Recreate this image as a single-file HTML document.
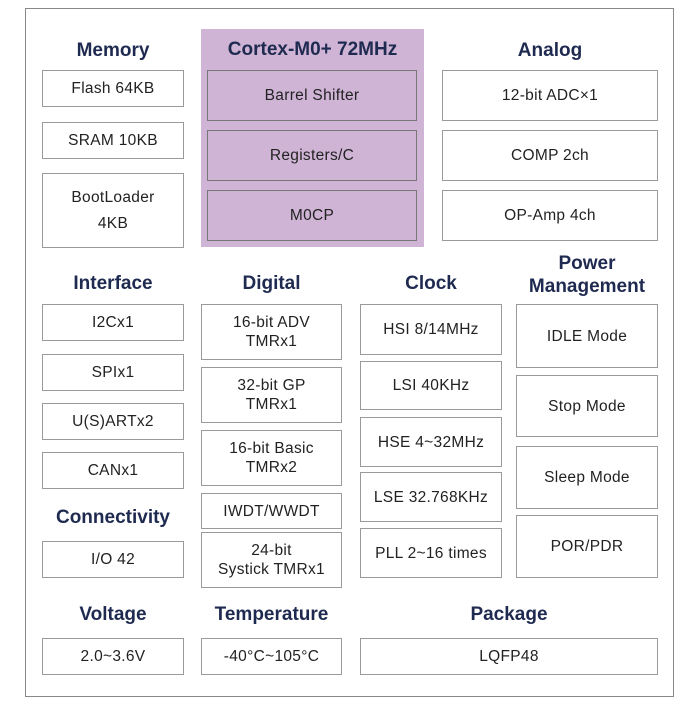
<!DOCTYPE html>
<html><head><style>
body{margin:0;width:700px;height:709px;background:#fff;position:relative;font-family:"Liberation Sans",sans-serif;overflow:hidden}
.o{position:absolute;left:25px;top:8px;width:649px;height:689px;border:1px solid #888;box-sizing:border-box}
.b{position:absolute;box-sizing:border-box;border:1px solid #9a9a9a;background:#fff;display:flex;align-items:center;justify-content:center;text-align:center;font-size:15.5px;color:#222;line-height:19px;letter-spacing:0.3px}
.p{background:#cfb4d6;border-color:#777}
.h{position:absolute;font-weight:bold;font-size:19px;color:#1f2a50;text-align:center;line-height:23px}
</style></head><body>
<div class="o"></div>
<div style="position:absolute;left:201px;top:29px;width:223px;height:218px;background:#cfb4d6"></div>
<div class="h" style="left:201px;width:223px;top:38px">Cortex-M0+ 72MHz</div>
<div class="b p" style="left:207px;top:70px;width:210px;height:51px">Barrel Shifter</div>
<div class="b p" style="left:207px;top:130px;width:210px;height:51px">Registers/C</div>
<div class="b p" style="left:207px;top:190px;width:210px;height:51px">M0CP</div>

<div class="h" style="left:42px;width:142px;top:39px">Memory</div>
<div class="b" style="left:42px;top:70px;width:142px;height:37px">Flash 64KB</div>
<div class="b" style="left:42px;top:122px;width:142px;height:37px">SRAM 10KB</div>
<div class="b" style="left:42px;top:173px;width:142px;height:75px;line-height:26px">BootLoader<br>4KB</div>

<div class="h" style="left:442px;width:216px;top:39px">Analog</div>
<div class="b" style="left:442px;top:70px;width:216px;height:51px">12-bit ADC×1</div>
<div class="b" style="left:442px;top:130px;width:216px;height:51px">COMP 2ch</div>
<div class="b" style="left:442px;top:190px;width:216px;height:51px">OP-Amp 4ch</div>

<div class="h" style="left:42px;width:142px;top:272px">Interface</div>
<div class="b" style="left:42px;top:304px;width:142px;height:37px">I2Cx1</div>
<div class="b" style="left:42px;top:354px;width:142px;height:37px">SPIx1</div>
<div class="b" style="left:42px;top:403px;width:142px;height:37px">U(S)ARTx2</div>
<div class="b" style="left:42px;top:452px;width:142px;height:37px">CANx1</div>
<div class="h" style="left:42px;width:142px;top:506px">Connectivity</div>
<div class="b" style="left:42px;top:541px;width:142px;height:37px">I/O 42</div>

<div class="h" style="left:201px;width:141px;top:272px">Digital</div>
<div class="b" style="left:201px;top:304px;width:141px;height:56px">16-bit ADV<br>TMRx1</div>
<div class="b" style="left:201px;top:367px;width:141px;height:56px">32-bit GP<br>TMRx1</div>
<div class="b" style="left:201px;top:430px;width:141px;height:56px">16-bit Basic<br>TMRx2</div>
<div class="b" style="left:201px;top:493px;width:141px;height:36px">IWDT/WWDT</div>
<div class="b" style="left:201px;top:532px;width:141px;height:56px">24-bit<br>Systick TMRx1</div>

<div class="h" style="left:360px;width:142px;top:272px">Clock</div>
<div class="b" style="left:360px;top:304px;width:142px;height:51px">HSI 8/14MHz</div>
<div class="b" style="left:360px;top:361px;width:142px;height:49px">LSI 40KHz</div>
<div class="b" style="left:360px;top:417px;width:142px;height:50px">HSE 4~32MHz</div>
<div class="b" style="left:360px;top:472px;width:142px;height:50px">LSE 32.768KHz</div>
<div class="b" style="left:360px;top:528px;width:142px;height:50px">PLL 2~16 times</div>

<div class="h" style="left:510px;width:154px;top:252px">Power<br>Management</div>
<div class="b" style="left:516px;top:304px;width:142px;height:64px">IDLE Mode</div>
<div class="b" style="left:516px;top:375px;width:142px;height:62px">Stop Mode</div>
<div class="b" style="left:516px;top:446px;width:142px;height:63px">Sleep Mode</div>
<div class="b" style="left:516px;top:515px;width:142px;height:63px">POR/PDR</div>

<div class="h" style="left:42px;width:142px;top:603px">Voltage</div>
<div class="h" style="left:195px;width:153px;top:603px">Temperature</div>
<div class="h" style="left:360px;width:298px;top:603px">Package</div>
<div class="b" style="left:42px;top:638px;width:142px;height:37px">2.0~3.6V</div>
<div class="b" style="left:201px;top:638px;width:141px;height:37px">-40°C~105°C</div>
<div class="b" style="left:360px;top:638px;width:298px;height:37px">LQFP48</div>
</body></html>
